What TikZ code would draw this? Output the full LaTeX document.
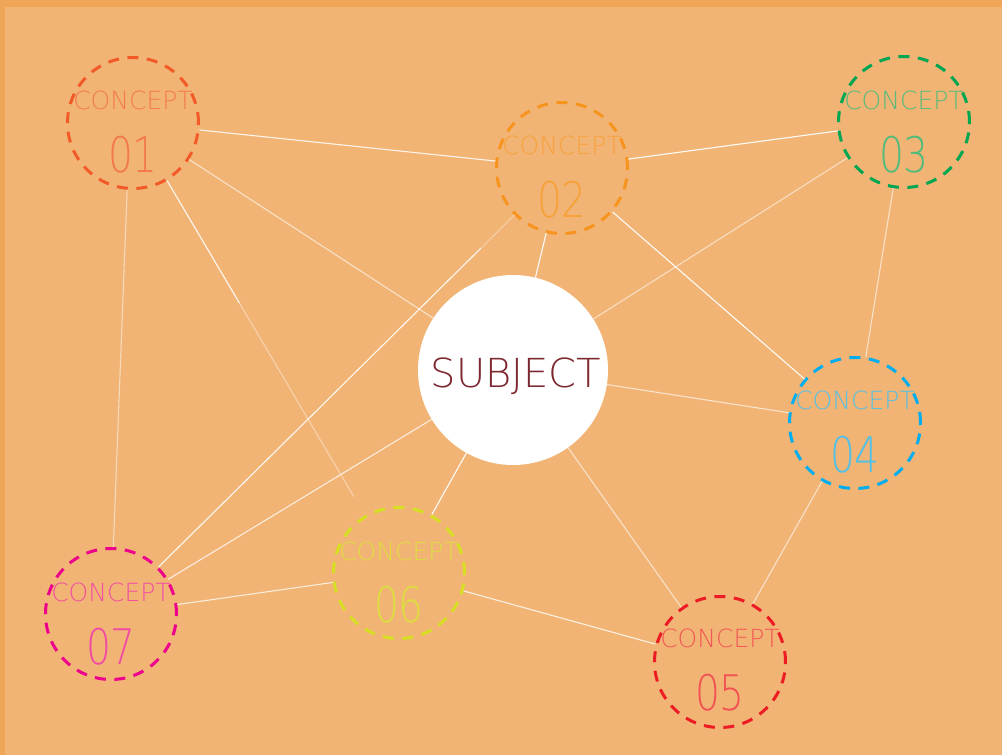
\documentclass[tikz,border=0pt]{standalone}
\usepackage{fontspec}
\usetikzlibrary{calc}
\setmainfont{DejaVu Sans ExtraLight}
\definecolor{bgc}{RGB}{241,180,117}
\definecolor{bordc}{RGB}{239,166,86}
\definecolor{cA}{RGB}{242,90,40}
\definecolor{cB}{RGB}{247,148,29}
\definecolor{cC}{RGB}{0,166,81}
\definecolor{cD}{RGB}{0,174,239}
\definecolor{cE}{RGB}{237,28,36}
\definecolor{cF}{RGB}{215,223,35}
\definecolor{cG}{RGB}{236,0,140}
\definecolor{subjc}{RGB}{125,40,48}
\tikzset{
  ring/.style={circle, draw=#1, line width=3pt, dash pattern=on 11pt off 8.5pt, minimum size=131pt, inner sep=0pt},
  ctext/.style={text=#1, font=\fontsize{25}{25}\selectfont, inner sep=0pt, opacity=0.85},
  cnum/.style={text=#1, font=\fontsize{49}{49}\selectfont, inner sep=0pt, xscale=0.8, opacity=0.9},
  link/.style={draw=white, line width=1.1pt, opacity=#1},
  link/.default=0.8
}
\begin{document}
\begin{tikzpicture}[x=1pt,y=-1pt]
\fill[bordc] (0,0) rectangle (1002,755);
\fill[bgc] (5,7) rectangle (1002,755);
\useasboundingbox (0,0) rectangle (1002,755);
% subject
\node[circle, fill=white, minimum size=190pt, inner sep=0pt] (s) at (513,370) {};
\node[text=subjc, font=\fontsize{40}{40}\selectfont, inner sep=0pt] (st) at (516,376) {SUBJECT};
% concepts
\node[ring=cA] (c1) at (133,123) {};
\node[ring=cB] (c2) at (562,168) {};
\node[ring=cC] (c3) at (904,122) {};
\node[ring=cD] (c4) at (855,423) {};
\node[ring=cE] (c5) at (720,662) {};
\node[ring=cF] (c6) at (399,573) {};
\node[ring=cG] (c7) at (111,614) {};
\node[ctext=cA!85!white] (t1) at (133,100) {CONCEPT};
\node[cnum=cA!85!white] (n1) at (133,155) {01};
\node[ctext=cB!90!white] (t2) at (562,145) {CONCEPT};
\node[cnum=cB!90!white] (n2) at (562,200) {02};
\node[ctext=cC!75!white] (t3) at (904,100) {CONCEPT};
\node[cnum=cC!75!white] (n3) at (904,155) {03};
\node[ctext=cD!75!white] (t4) at (855,400) {CONCEPT};
\node[cnum=cD!75!white] (n4) at (855,455) {04};
\node[ctext=cE!80!white] (t5) at (720,638) {CONCEPT};
\node[cnum=cE!80!white] (n5) at (720,693) {05};
\node[ctext=cF!90!white] (t6) at (399,551) {CONCEPT};
\node[cnum=cF!90!white] (n6) at (399,605) {06};
\node[ctext=cG!75!white] (t7) at (111,592) {CONCEPT};
\node[cnum=cG!75!white] (n7) at (111,647) {07};
% fading ends
\coordinate (f16) at ($(c1)!0.83!(c6)$);
\coordinate (g16) at ($(c1)!0.4!(c6)$);
\coordinate (f27) at ($(c7)!0.82!(c2)$);
% links
\draw[link=0.85] (c1) -- (c2);
\draw[link=0.6] (c1) -- (s);
\draw[link=0.5] (c1.-95) -- (c7.88);
\draw[link=0.9] (c1) -- (g16);
\draw[link=0.4] (g16) -- (f16);
\draw[link=0.95] (c2) -- (c3);
\draw[link=0.95] (c2) -- (s);
\draw[link=0.95] (c2) -- (c4);
\draw[link=0.9] (c7) -- (f27);
\draw[link=0.35] (f27) -- (c2);
\draw[link=0.55] (c3) -- (s);
\draw[link=0.6] (c3) -- (c4);
\draw[link=0.65] (s) -- (c4);
\draw[link=0.75] (s) -- (c7);
\draw[link=0.95] (s) -- (c6);
\draw[link=0.6] (s) -- (c5);
\draw[link=0.6] (c4) -- (c5);
\draw[link=0.75] (c6) -- (c7);
\draw[link=0.8] (c6) -- (c5);
\end{tikzpicture}
\end{document}
